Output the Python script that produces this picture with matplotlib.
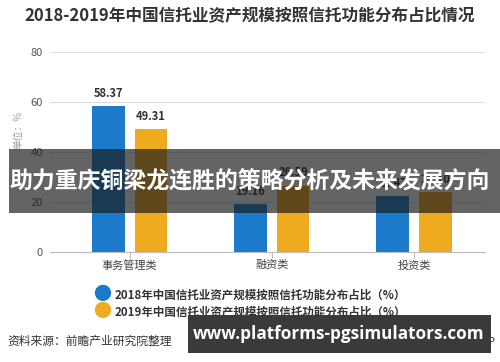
import numpy as np
import matplotlib.pyplot as plt
from matplotlib.patches import Rectangle

plt.rcParams['font.family'] = ['Noto Sans CJK SC', 'DejaVu Sans']

categories = ["事务管理类", "融资类", "投资类"]
v2018 = [58.37, 19.16, 22.47]
v2019 = [49.31, 26.59, 24.10]
yticks = [0, 20, 40, 60, 80]

blue = "#1b7ac9"
yellow = "#efab1f"

fig = plt.figure(figsize=(5, 3.62), dpi=100)
ax = fig.add_axes([0.1, 0.304, 0.87, 0.552])

x = np.arange(len(categories))
w = 0.23
b1 = ax.bar(x - 0.15, v2018, w, color=blue)
b2 = ax.bar(x + 0.15, v2019, w, color=yellow)
for bars, vals in [(b1, v2018), (b2, v2019)]:
    for r, v in zip(bars, vals):
        ax.text(r.get_x() + r.get_width() / 2, v + 2.5, f"{v:.2f}", ha="center", va="bottom",
                fontsize=8, fontweight="bold", color="#333333")

ax.set_xlim(-0.56, 2.5)
ax.set_ylim(0, 80)
ax.set_yticks(yticks)
ax.set_xticks(x)
ax.set_xticklabels(categories, fontsize=8, color="#444444")
ax.tick_params(axis="y", length=0, labelsize=8, labelcolor="#555555", pad=5)
ax.tick_params(axis="x", length=4, color="#bbbbbb", pad=2)
ax.grid(axis="y", color="#dddddd", linewidth=0.8)
ax.set_axisbelow(True)
for s in ["top", "right", "left"]:
    ax.spines[s].set_visible(False)
ax.spines["bottom"].set_color("#bbbbbb")

fig.text(0.036, 0.64, "单位：%", rotation=90, fontsize=7, color="#999999", ha="center", va="center")

fig.text(0.5, 0.955, "2018-2019年中国信托业资产规模按照信托功能分布占比情况", ha="center", va="center",
         fontsize=12, fontweight="bold", color="#333333")

# legend
legend_labels = ["2018年中国信托业资产规模按照信托功能分布占比（%）",
                 "2019年中国信托业资产规模按照信托功能分布占比（%）"]
for i, (c, lab) in enumerate(zip([blue, yellow], legend_labels)):
    yy = 1 - (295 + i * 17) / 362
    fig.text(102 / 500, yy, "●", color=c, fontsize=13, ha="center", va="center")
    fig.text(115 / 500, yy, lab, fontsize=8.3, fontweight="bold", color="#333333", ha="left", va="center")

fig.text(0.014, 1 - 341 / 362, "资料来源：前瞻产业研究院整理", fontsize=8.5, color="#333333", ha="left", va="center")
fig.text(0.99, 1 - 341 / 362, "@前瞻经济学人APP", fontsize=8, color="#333333", ha="right", va="center")

# overlay banners
fig.patches.append(Rectangle((9 / 500, 1 - 213 / 362), 491 / 500, 64 / 362, transform=fig.transFigure,
                             facecolor="#1a1a1a", alpha=0.68, edgecolor="none", zorder=10))
fig.text(0.5, 1 - 182 / 362, "助力重庆铜梁龙连胜的策略分析及未来发展方向", ha="center", va="center",
         fontsize=16.5, fontweight="bold", color="white", zorder=11)
fig.patches.append(Rectangle((188 / 500, 1 - 353 / 362), 303 / 500, 38 / 362, transform=fig.transFigure,
                             facecolor="#3a3a3a", edgecolor="none", zorder=10))
fig.text(339 / 500, 1 - 334 / 362, "www.platforms-pgsimulators.com", ha="center", va="center",
         fontsize=12.3, fontweight="bold", color="white", family="Open Sans", zorder=11)

fig.savefig("out.png", dpi=100)
